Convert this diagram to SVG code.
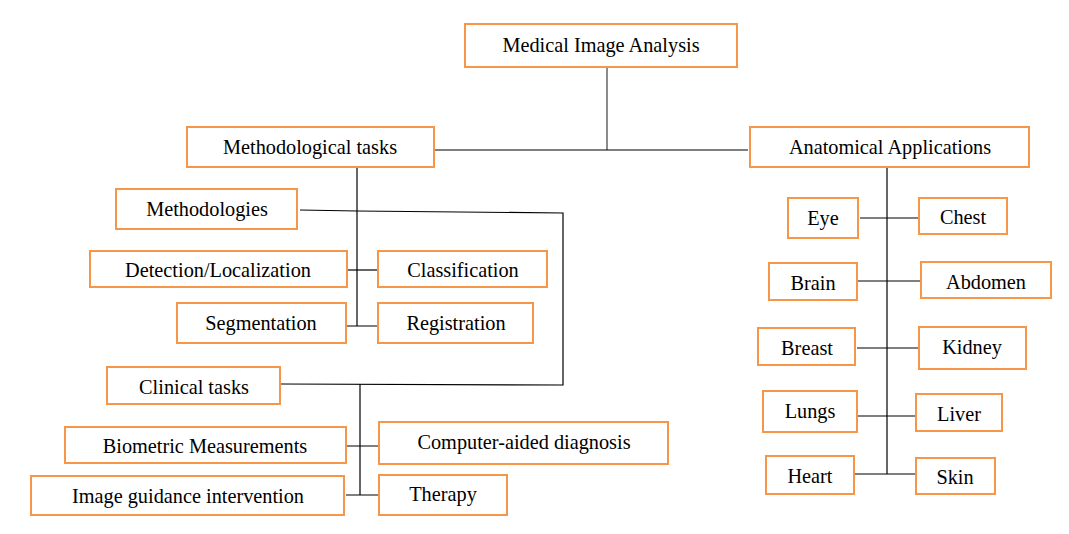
<svg xmlns="http://www.w3.org/2000/svg" width="1069" height="534" viewBox="0 0 1069 534">
<style>
.b{fill:#fff;stroke:#F79646;stroke-width:2}
.t{font-family:"Liberation Serif","Times New Roman",serif;font-size:20.3px;fill:#000;text-anchor:middle}
.c{fill:none;stroke:#000;stroke-width:1.2}
.g{fill:none;stroke:#6e6e6e;stroke-width:1.6}
</style>
<rect width="1069" height="534" fill="#fff"/>
<g id="connectors">
<line class="g" x1="607" y1="67" x2="607" y2="150"/>
<line class="c" x1="433" y1="150" x2="748" y2="150"/>
<line class="c" x1="357" y1="167" x2="357" y2="326"/>
<polyline class="c" points="300,210 357,211 563,213 563,385 281,384"/>
<line class="c" x1="347" y1="270" x2="379" y2="270"/>
<line class="c" x1="346" y1="326" x2="379" y2="326"/>
<line class="c" x1="360" y1="384" x2="360" y2="495"/>
<line class="c" x1="346" y1="446" x2="379" y2="446"/>
<line class="c" x1="346" y1="495" x2="379" y2="495"/>
<line class="c" x1="887" y1="167" x2="887" y2="474"/>
<line class="c" x1="860" y1="218" x2="919" y2="218"/>
<line class="c" x1="857" y1="281" x2="921" y2="281"/>
<line class="c" x1="857" y1="348" x2="919" y2="348"/>
<line class="c" x1="857" y1="416" x2="916" y2="416"/>
<line class="c" x1="854" y1="474" x2="916" y2="474"/>
</g>
<g id="n-root"><rect class="b" x="465" y="24" width="272" height="43"/><text class="t" x="601" y="52">Medical Image Analysis</text></g>
<g id="n-meth"><rect class="b" x="187" y="127" width="247" height="40"/><text class="t" x="310" y="154">Methodological tasks</text></g>
<g id="n-anat"><rect class="b" x="750" y="127" width="279" height="40"/><text class="t" x="890" y="154">Anatomical Applications</text></g>
<g id="n-methodologies"><rect class="b" x="116" y="189" width="181" height="40"/><text class="t" x="207" y="216">Methodologies</text></g>
<g id="n-detection"><rect class="b" x="90" y="251" width="257" height="36"/><text class="t" x="218" y="277">Detection/Localization</text></g>
<g id="n-classification"><rect class="b" x="378" y="251" width="169" height="36"/><text class="t" x="463" y="277">Classification</text></g>
<g id="n-segmentation"><rect class="b" x="177" y="303" width="169" height="40"/><text class="t" x="261" y="330">Segmentation</text></g>
<g id="n-registration"><rect class="b" x="378" y="303" width="155" height="40"/><text class="t" x="456" y="330">Registration</text></g>
<g id="n-clinical"><rect class="b" x="107" y="367" width="173" height="37"/><text class="t" x="194" y="394">Clinical tasks</text></g>
<g id="n-biometric"><rect class="b" x="65" y="427" width="281" height="36"/><text class="t" x="205" y="453">Biometric Measurements</text></g>
<g id="n-cad"><rect class="b" x="379" y="422" width="289" height="42"/><text class="t" x="524" y="449">Computer-aided diagnosis</text></g>
<g id="n-igi"><rect class="b" x="31" y="476" width="313" height="39"/><text class="t" x="188" y="503">Image guidance intervention</text></g>
<g id="n-therapy"><rect class="b" x="379" y="475" width="128" height="40"/><text class="t" x="443" y="501">Therapy</text></g>
<g id="n-eye"><rect class="b" x="788" y="198" width="70" height="40"/><text class="t" x="823" y="225">Eye</text></g>
<g id="n-chest"><rect class="b" x="919" y="198" width="88" height="36"/><text class="t" x="963" y="224">Chest</text></g>
<g id="n-brain"><rect class="b" x="769" y="263" width="88" height="37"/><text class="t" x="813" y="290">Brain</text></g>
<g id="n-abdomen"><rect class="b" x="921" y="262" width="130" height="36"/><text class="t" x="986" y="289">Abdomen</text></g>
<g id="n-breast"><rect class="b" x="758" y="328" width="97" height="37"/><text class="t" x="807" y="355">Breast</text></g>
<g id="n-kidney"><rect class="b" x="919" y="327" width="107" height="42"/><text class="t" x="972" y="354">Kidney</text></g>
<g id="n-lungs"><rect class="b" x="763" y="391" width="94" height="41"/><text class="t" x="810" y="418">Lungs</text></g>
<g id="n-liver"><rect class="b" x="916" y="394" width="86" height="37"/><text class="t" x="959" y="421">Liver</text></g>
<g id="n-heart"><rect class="b" x="766" y="456" width="88" height="38"/><text class="t" x="810" y="483">Heart</text></g>
<g id="n-skin"><rect class="b" x="916" y="458" width="79" height="36"/><text class="t" x="955" y="484">Skin</text></g>
</svg>
